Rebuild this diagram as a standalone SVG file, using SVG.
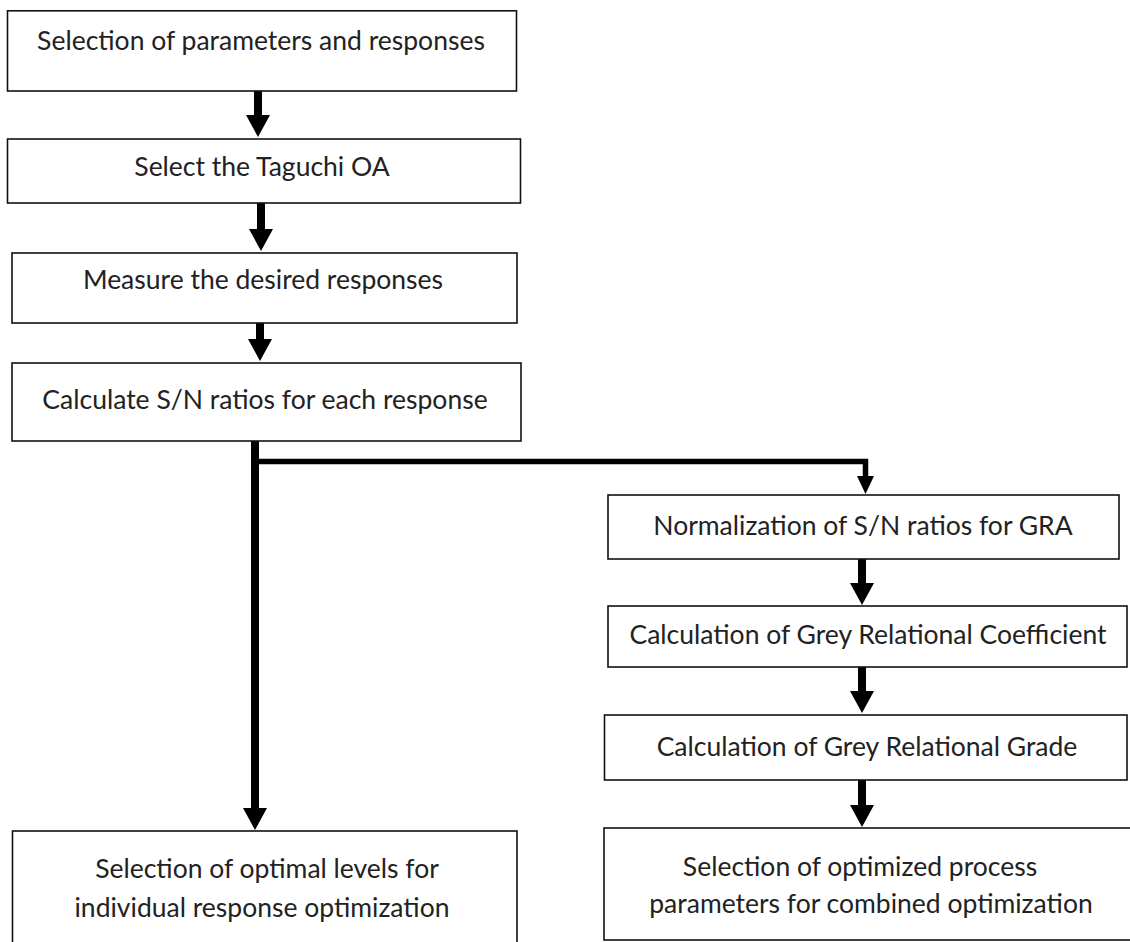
<svg xmlns="http://www.w3.org/2000/svg" width="1130" height="942" viewBox="0 0 1130 942">
<style>
.box{fill:#fff;stroke:#111;stroke-width:1.6}
.t{font-family:Lato,"Liberation Sans",sans-serif;font-size:26.5px;fill:#222;text-anchor:middle}
.sh{stroke:#000;stroke-width:8;fill:none}
.sb{stroke:#000;stroke-width:5.5;fill:none}
</style>
<defs>
<marker id="ah" markerUnits="userSpaceOnUse" markerWidth="22" markerHeight="24" viewBox="0 0 22 24" refX="0" refY="12" orient="auto"><path d="M0,0 L22,12 L0,24 z" fill="#000"/></marker>
<marker id="ahs" markerUnits="userSpaceOnUse" markerWidth="18" markerHeight="17" viewBox="0 0 18 17" refX="0" refY="8.5" orient="auto"><path d="M0,0 L18,8.5 L0,17 z" fill="#000"/></marker>
</defs>
<rect width="1130" height="942" fill="#fff"/>
<g id="connectors">
<line class="sh" x1="258" y1="91" x2="258" y2="115" marker-end="url(#ah)"/>
<line class="sh" x1="261" y1="203" x2="261" y2="229" marker-end="url(#ah)"/>
<line class="sh" x1="260" y1="323" x2="260" y2="339" marker-end="url(#ah)"/>
<line class="sh" x1="255" y1="441" x2="255" y2="808" marker-end="url(#ah)"/>
<path class="sb" d="M255,461.5 H865.5 V476" marker-end="url(#ahs)"/>
<line class="sh" x1="862" y1="559" x2="862" y2="583" marker-end="url(#ah)"/>
<line class="sh" x1="862" y1="667" x2="862" y2="691" marker-end="url(#ah)"/>
<line class="sh" x1="862" y1="780" x2="862" y2="805" marker-end="url(#ah)"/>
</g>
<g id="n1"><rect class="box" x="7.5" y="10.8" width="509" height="80.2"/><text class="t" x="261" y="50">Selection of parameters and responses</text></g>
<g id="n2"><rect class="box" x="7.5" y="139" width="513" height="64"/><text class="t" x="262" y="176">Select the Taguchi OA</text></g>
<g id="n3"><rect class="box" x="12" y="253" width="505" height="70"/><text class="t" x="263" y="289">Measure the desired responses</text></g>
<g id="n4"><rect class="box" x="12" y="363" width="509" height="78"/><text class="t" x="265" y="409">Calculate S/N ratios for each response</text></g>
<g id="n5"><rect class="box" x="608" y="495" width="511" height="64"/><text class="t" x="863" y="535">Normalization of S/N ratios for GRA</text></g>
<g id="n6"><rect class="box" x="608" y="606" width="519" height="61"/><text class="t" x="868" y="644">Calculation of Grey Relational Coefficient</text></g>
<g id="n7"><rect class="box" x="604.5" y="715" width="522.5" height="65"/><text class="t" x="867" y="756">Calculation of Grey Relational Grade</text></g>
<g id="n8"><rect class="box" x="12.5" y="831" width="504.5" height="130"/><text class="t" x="267" y="878">Selection of optimal levels for</text><text class="t" x="262" y="917">individual response optimization</text></g>
<g id="n9"><rect class="box" x="604" y="828" width="540" height="112"/><text class="t" x="860" y="876">Selection of optimized process</text><text class="t" x="871" y="913">parameters for combined optimization</text></g>
</svg>
